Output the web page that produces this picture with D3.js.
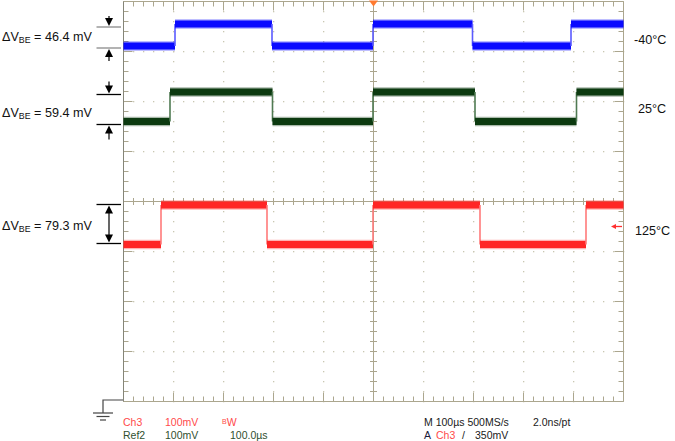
<!DOCTYPE html>
<html>
<head>
<meta charset="utf-8">
<script src="https://cdn.jsdelivr.net/npm/d3@7"></script>
<style>
html,body{margin:0;padding:0;background:#fff;}
svg{display:block;font-family:"Liberation Sans",Arial,sans-serif;}
</style>
</head>
<body>
<svg id="c" width="675" height="441"></svg>
<script>
// ---- data (time in µs across 10 divisions, level in mV on the 8-division screen) ----
const seriesNames = ["-40°C", "25°C", "125°C"];
const blueTimes   = [0, 103, 297, 499, 698, 895, 1000];
const blueLevels  = [711, 755, 711, 755, 711, 755];
const greenTimes  = [0, 93, 298, 499, 703, 906, 1000];
const greenLevels = [560, 619, 560, 619, 560, 619];
const redTimes    = [0, 75, 287, 499, 713, 925, 1000];
const redLevels   = [314, 393, 314, 393, 314, 393];
const deltaLabels = ["46.4", "59.4", "79.3"];
const deltaTop    = [749, 614, 394];
const deltaBottom = [707, 554, 316];
const triggerTime = 500;
const triggerLevel = 350;
const timeDomain = [0, 1000];
const levelDomain = [0, 800];

const svg = d3.select("#c");
const x = d3.scaleLinear().domain(timeDomain).range([123.5, 623.5]);
const y = d3.scaleLinear().domain(levelDomain).range([401.5, 1.5]);

const gridCol = "#c9c7b2", axisCol = "#aba68e";

// grid dots
const g = svg.append("g");
const majorT = d3.range(100, 1000, 100).filter(t => t !== 500);
const majorV = d3.range(100, 800, 100).filter(v => v !== 400);
const fineT = d3.range(0, 1001, 20);
const fineV = d3.range(0, 801, 20);
majorT.forEach(t => fineV.forEach(v => {
  g.append("rect").attr("x", Math.floor(x(t))).attr("y", Math.floor(y(v))).attr("width", 1.3).attr("height", 1.3).attr("fill", gridCol);
}));
majorV.forEach(v => fineT.forEach(t => {
  g.append("rect").attr("x", Math.floor(x(t))).attr("y", Math.floor(y(v))).attr("width", 1.3).attr("height", 1.3).attr("fill", gridCol);
}));

// center axes
const ax = svg.append("g").attr("stroke", axisCol).attr("stroke-width", 1);
ax.append("line").attr("x1", x(0)).attr("x2", x(1000)).attr("y1", y(400)).attr("y2", y(400));
ax.append("line").attr("x1", x(500)).attr("x2", x(500)).attr("y1", y(0)).attr("y2", y(800));
fineT.forEach(t => {
  ax.append("line").attr("x1", x(t)).attr("x2", x(t)).attr("y1", y(400) - 3.5).attr("y2", y(400) + 3.5);
  const L = t % 100 === 0 ? 9 : 5;
  ax.append("line").attr("x1", x(t)).attr("x2", x(t)).attr("y1", y(0)).attr("y2", y(0) - L);
  ax.append("line").attr("x1", x(t)).attr("x2", x(t)).attr("y1", y(800)).attr("y2", y(800) + L);
});
fineV.forEach(v => {
  ax.append("line").attr("x1", x(500) - 3.5).attr("x2", x(500) + 3.5).attr("y1", y(v)).attr("y2", y(v));
  const L = v % 100 === 0 ? 9 : 5;
  ax.append("line").attr("x1", x(0)).attr("x2", x(0) + L).attr("y1", y(v)).attr("y2", y(v));
  ax.append("line").attr("x1", x(1000)).attr("x2", x(1000) - L).attr("y1", y(v)).attr("y2", y(v));
});
// border
ax.append("line").attr("x1", x(0)).attr("x2", x(1000)).attr("y1", y(800)).attr("y2", y(800));
ax.append("line").attr("x1", x(0)).attr("x2", x(1000)).attr("y1", y(0)).attr("y2", y(0));
ax.append("line").attr("x1", x(1000)).attr("x2", x(1000)).attr("y1", y(0)).attr("y2", y(800));
svg.append("line").attr("x1", x(0)).attr("x2", x(0)).attr("y1", y(0)).attr("y2", y(800)).attr("stroke", "#858578");

// traces
function trace(times, levels, col, edgeCol) {
  const tg = svg.append("g");
  for (let i = 0; i < levels.length; i++) {
    tg.append("line").attr("x1", x(times[i])).attr("x2", x(times[i + 1]))
      .attr("y1", y(levels[i])).attr("y2", y(levels[i]))
      .attr("stroke", col).attr("stroke-width", 9.5).attr("opacity", 0.35);
    tg.append("line").attr("x1", x(times[i])).attr("x2", x(times[i + 1]))
      .attr("y1", y(levels[i])).attr("y2", y(levels[i]))
      .attr("stroke", col).attr("stroke-width", 7);
    if (i < levels.length - 1) {
      tg.append("line").attr("x1", x(times[i + 1])).attr("x2", x(times[i + 1]))
        .attr("y1", y(levels[i])).attr("y2", y(levels[i + 1]))
        .attr("stroke", edgeCol).attr("stroke-width", 1.6);
    }
  }
}
trace(blueTimes, blueLevels, "#0a0aff", "#5a5aff");
trace(greenTimes, greenLevels, "#0c3a10", "#4f7a52");
trace(redTimes, redLevels, "#ff2626", "#ff7a7a");

// trigger markers
svg.append("path")
  .attr("d", `M${x(triggerTime) - 4.5},${y(800) - 1}L${x(triggerTime) + 4.5},${y(800) - 1}L${x(triggerTime)},${y(800) + 5}Z`)
  .attr("fill", "#ff7a30");
const ty = y(triggerLevel);
svg.append("line").attr("x1", 614).attr("x2", 622).attr("y1", ty).attr("y2", ty).attr("stroke", "#ff3030").attr("stroke-width", 1.3);
svg.append("path").attr("d", `M611,${ty}L616,${ty - 2.5}L616,${ty + 2.5}Z`).attr("fill", "#ff3030");

// delta annotations
const lineCols = ["#8a8a8a", "#000", "#000"];
const textOff = [3.8, 7.2, 6.2];
const ax0 = 109;
function arrowHead(gr, cx, tipY, dir) { // dir 1 = points down, -1 = points up
  gr.append("path").attr("d", `M${cx - 4},${tipY - dir * 8}L${cx + 4},${tipY - dir * 8}L${cx},${tipY}Z`).attr("fill", "#000");
}
deltaLabels.forEach((lab, i) => {
  const a = svg.append("g");
  const yt = y(deltaTop[i]), yb = y(deltaBottom[i]);
  [yt, yb].forEach(yy => a.append("line").attr("x1", 96.5).attr("x2", 121).attr("y1", yy).attr("y2", yy)
    .attr("stroke", lineCols[i]).attr("stroke-width", 1.3));
  if (i < 2) {
    const len = i === 0 ? 11 : 13;
    a.append("line").attr("x1", ax0).attr("x2", ax0).attr("y1", yt - len).attr("y2", yt - 4).attr("stroke", "#000").attr("stroke-width", 1.2);
    arrowHead(a, ax0, yt - 1, 1);
    a.append("line").attr("x1", ax0).attr("x2", ax0).attr("y1", yb + 4).attr("y2", yb + len + 2).attr("stroke", "#000").attr("stroke-width", 1.2);
    arrowHead(a, ax0, yb + 1, -1);
  } else {
    a.append("line").attr("x1", ax0).attr("x2", ax0).attr("y1", yt + 4).attr("y2", yb - 4).attr("stroke", "#000").attr("stroke-width", 1.2);
    arrowHead(a, ax0, yt + 1, -1);
    arrowHead(a, ax0, yb - 1, 1);
  }
  const t = a.append("text").attr("x", 2).attr("y", (yt + yb) / 2 + textOff[i])
    .attr("font-size", 12.6).attr("fill", "#111");
  t.append("tspan").text("ΔV");
  t.append("tspan").attr("font-size", 8.8).attr("dy", 2).text("BE");
  t.append("tspan").attr("dy", -2).text(" = " + lab + " mV");
});

// series labels on the right
const nameY = [44, 113, 235];
const nameX = [634, 638, 635];
seriesNames.forEach((n, i) => {
  svg.append("text").attr("x", nameX[i]).attr("y", nameY[i]).attr("font-size", 12.6).attr("fill", "#111").text(n);
});

// ground symbol
const gnd = svg.append("g").attr("stroke", "#444").attr("stroke-width", 1.2).attr("fill", "none");
gnd.append("path").attr("d", "M123,400H103V413");
gnd.append("line").attr("x1", 93).attr("x2", 113).attr("y1", 413).attr("y2", 413);
gnd.append("line").attr("x1", 96.5).attr("x2", 109.5).attr("y1", 416.5).attr("y2", 416.5);
gnd.append("line").attr("x1", 100).attr("x2", 106).attr("y1", 420).attr("y2", 420);

// status text
const fs = 10.5;
const st = svg.append("g").attr("font-size", fs);
st.append("text").attr("x", 123).attr("y", 426).attr("fill", "#ff4a4a").text("Ch3");
st.append("text").attr("x", 165).attr("y", 426).attr("fill", "#ff4a4a").text("100mV");
const bw = st.append("text").attr("x", 222).attr("y", 426).attr("fill", "#ff4a4a");
bw.append("tspan").attr("font-size", 7).attr("dy", -2.5).text("B");
bw.append("tspan").attr("dy", 2.5).text("W");
st.append("text").attr("x", 123).attr("y", 439).attr("fill", "#2f4f2f").text("Ref2");
st.append("text").attr("x", 165).attr("y", 439).attr("fill", "#2f4f2f").text("100mV");
st.append("text").attr("x", 230).attr("y", 439).attr("fill", "#2f4f2f").text("100.0µs");
st.append("text").attr("x", 424).attr("y", 426).attr("fill", "#1a1a1a").text("M 100µs 500MS/s");
st.append("text").attr("x", 533).attr("y", 426).attr("fill", "#1a1a1a").text("2.0ns/pt");
st.append("text").attr("x", 424).attr("y", 439).attr("fill", "#1a1a3a").text("A");
st.append("text").attr("x", 436).attr("y", 439).attr("fill", "#ff4a4a").text("Ch3");
st.append("text").attr("x", 462).attr("y", 439).attr("fill", "#1a1a1a").text("/");
st.append("text").attr("x", 475).attr("y", 439).attr("fill", "#1a1a1a").text("350mV");
</script>
</body>
</html>
